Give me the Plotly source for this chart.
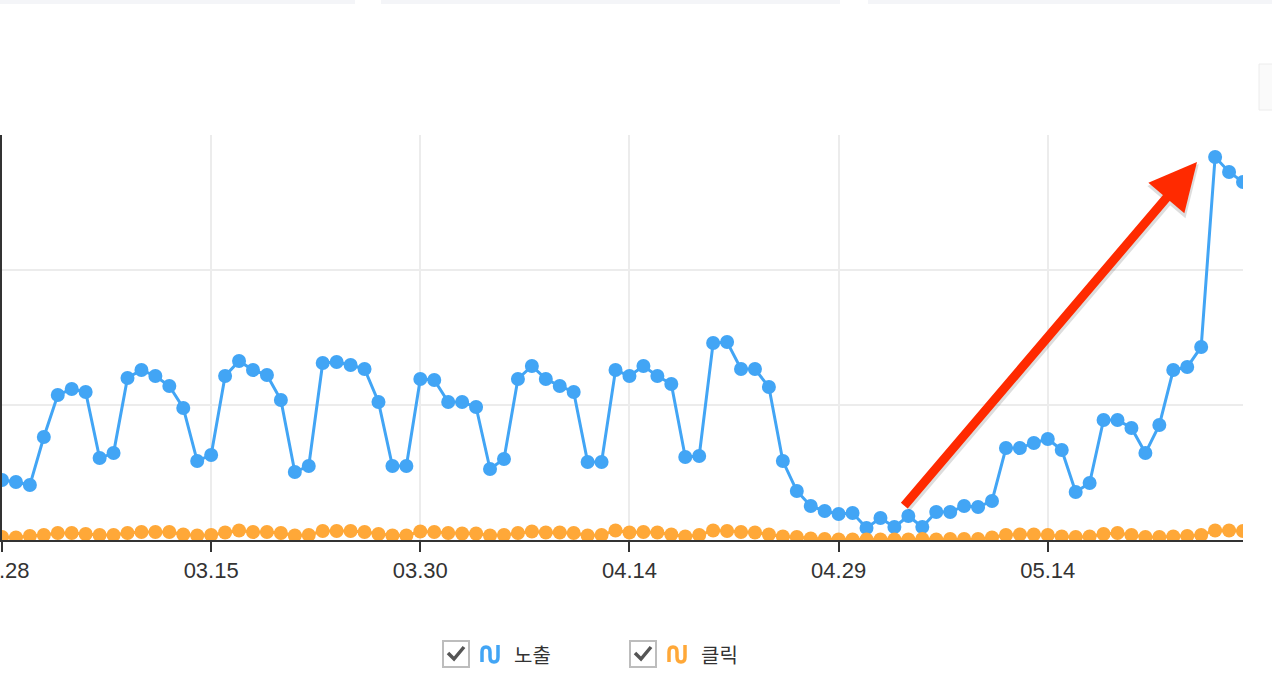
import pandas as pd
import plotly.graph_objects as go

# daily series, 2019-02-28 .. 2019-05-28
dates = pd.date_range("2019-02-28", periods=90, freq="D")

impressions = [444, 430, 407, 763, 1074, 1119, 1096, 607, 644, 1200,
               1259, 1215, 1141, 978, 585, 630, 1215, 1326, 1259, 1222,
               1037, 504, 548, 1311, 1319, 1296, 1267, 1022, 548, 548,
               1193, 1185, 1022, 1022, 985, 526, 600, 1193, 1289, 1193,
               1141, 1096, 578, 578, 1259, 1215, 1289, 1215, 1156, 615,
               622, 1459, 1467, 1267, 1267, 1133, 585, 363, 252, 215,
               193, 200, 89, 163, 96, 178, 96, 207, 207, 252,
               244, 289, 681, 681, 719, 748, 667, 356, 422, 889,
               889, 830, 644, 852, 1259, 1281, 1430, 2837, 2726, 2652]

clicks = [22, 19, 30, 37, 52, 52, 44, 37, 37, 52,
          59, 59, 59, 41, 33, 37, 56, 70, 59, 59,
          52, 33, 37, 67, 67, 67, 59, 44, 33, 33,
          63, 59, 52, 48, 48, 33, 37, 52, 63, 56,
          56, 52, 33, 37, 70, 56, 59, 56, 41, 26,
          37, 70, 67, 59, 56, 41, 26, 22, 11, 7,
          4, 4, 4, 4, 4, 4, 7, 4, 7, 7,
          7, 19, 37, 41, 41, 37, 26, 22, 26, 44,
          52, 37, 22, 22, 26, 30, 37, 70, 70, 67]

tick_dates = ["2019-02-28", "2019-03-15", "2019-03-30",
              "2019-04-14", "2019-04-29", "2019-05-14"]
tick_labels = ["02.28", "03.15", "03.30", "04.14", "04.29", "05.14"]

series_names = ["노출", "클릭"]
BLUE = "#42a5f5"
ORANGE = "#ffa838"
RED = "#ff2a00"

W, H = 1272, 690
ML, MR, MT, MB = 2, 29, 135, 150
PW = W - ML - MR
PH = H - MT - MB


def px(x):
    return (x - ML) / PW


def py(y):
    return (H - MB - y) / PH


fig = go.Figure()
for vals, name, col in [(impressions, series_names[0], BLUE),
                        (clicks, series_names[1], ORANGE)]:
    fig.add_trace(go.Scatter(
        x=dates, y=vals, name=name, mode="lines+markers",
        line=dict(color=col, width=3),
        marker=dict(color=col, size=14),
        cliponaxis=True,
    ))

# red arrow pointing at the jump (soft shadow first, then the arrow)
fig.add_annotation(
    x="2019-05-24 20:00", y=2785, ax="2019-05-03 18:00", ay=229,
    xref="x", yref="y", axref="x", ayref="y",
    showarrow=True, arrowhead=2, arrowsize=1.0, arrowwidth=10,
    arrowcolor="rgba(0,0,0,0.13)", text="", standoff=0,
)
fig.add_annotation(
    x="2019-05-24 16:48", y=2800, ax="2019-05-03 14:50", ay=244,
    xref="x", yref="y", axref="x", ayref="y",
    showarrow=True, arrowhead=2, arrowsize=1.05, arrowwidth=9,
    arrowcolor=RED, text="", standoff=0,
)

shapes = []
annots = []

# faint page bits at the top and right edge
for x0, x1 in [(0, 355), (381, 840), (868, 1272)]:
    shapes.append(dict(type="rect", xref="paper", yref="paper",
                       x0=px(x0), x1=px(x1), y0=py(0), y1=py(4),
                       fillcolor="#f4f5f8", line=dict(width=0), layer="below"))
shapes.append(dict(type="rect", xref="paper", yref="paper",
                   x0=px(1259), x1=px(1290), y0=py(64), y1=py(110),
                   fillcolor="#fafafa", line=dict(color="#ececec", width=1)))

# legend: checkbox + wave icon + label
for i, (name, col) in enumerate(zip(series_names, [BLUE, ORANGE])):
    o = i * 187
    shapes.append(dict(type="rect", xref="paper", yref="paper",
                       x0=px(443 + o), x1=px(469 + o), y0=py(667), y1=py(641),
                       line=dict(color="#bdbdbd", width=2), fillcolor="white"))
    chk = [(448, 653), (454, 659), (464, 647)]
    path = "M" + " L".join(f"{px(a + o)},{py(b)}" for a, b in chk)
    shapes.append(dict(type="path", xref="paper", yref="paper", path=path,
                       line=dict(color="#555555", width=3.5)))
    pts = [("M", 482, 662), ("L", 482, 652), ("Q", 482, 647), ("", 486, 647),
           ("Q", 490, 647), ("", 490, 652), ("L", 490, 657), ("Q", 490, 662),
           ("", 494, 662), ("Q", 498, 662), ("", 498, 657), ("L", 498, 645)]
    wave = " ".join(f"{c}{px(a + o)},{py(b)}" for c, a, b in pts)
    shapes.append(dict(type="path", xref="paper", yref="paper", path=wave,
                       line=dict(color=col, width=3.5)))
    annots.append(dict(xref="paper", yref="paper", x=px(512 + o), y=py(654),
                       xanchor="left", yanchor="middle", text=name,
                       showarrow=False,
                       font=dict(family="Noto Sans CJK KR", size=20, color="#333333")))

for a in annots:
    fig.add_annotation(**a)

fig.update_layout(
    width=W, height=H,
    margin=dict(l=ML, r=MR, t=MT, b=MB, autoexpand=False),
    paper_bgcolor="white", plot_bgcolor="white",
    showlegend=False,
    shapes=shapes,
    font=dict(family="Liberation Sans, Arial, sans-serif", color="#333333"),
)
fig.update_xaxes(
    type="date", range=["2019-02-28", "2019-05-28"],
    tickvals=tick_dates, ticktext=tick_labels,
    tickfont=dict(size=22, color="#333333"),
    ticklabeloverflow="allow", automargin=False,
    ticks="outside", ticklen=10, tickwidth=2, tickcolor="#333333",
    showline=True, linecolor="#333333", linewidth=2,
    showgrid=True, gridcolor="#ececec", gridwidth=1.5,
    zeroline=False,
)
fig.update_yaxes(
    range=[0, 3000], tickvals=[0, 1000, 2000, 3000],
    showticklabels=False, automargin=False,
    ticks="outside", ticklen=6, tickwidth=2, tickcolor="#333333",
    showline=True, linecolor="#333333", linewidth=2,
    showgrid=True, gridcolor="#ececec", gridwidth=1.5,
    zeroline=False,
)

fig.write_html("out.html", config={"displayModeBar": False},
               post_script="document.body.style.margin='0';document.body.style.overflow='hidden';")
